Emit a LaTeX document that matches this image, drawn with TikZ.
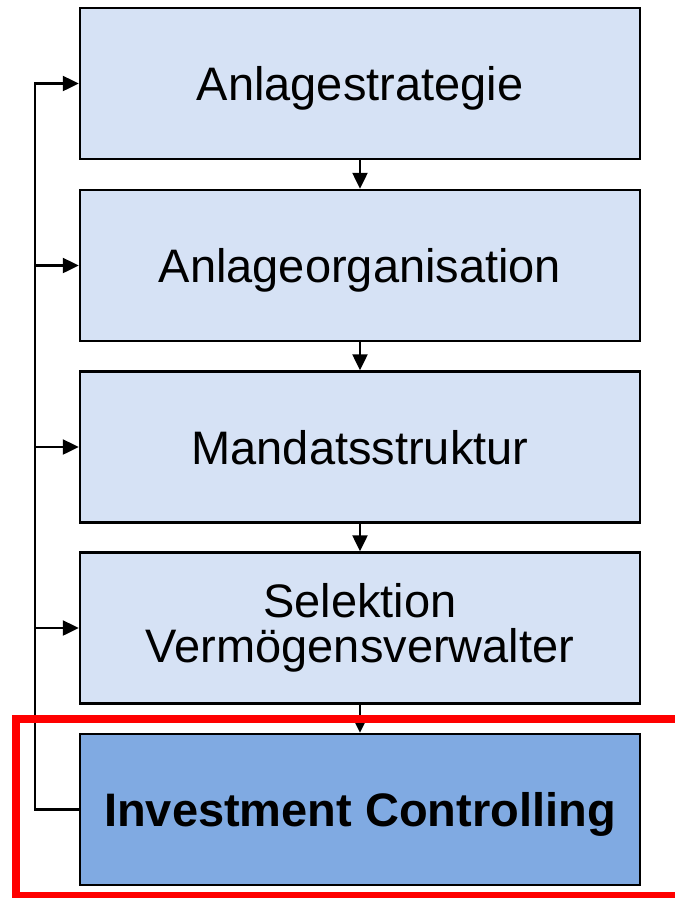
\documentclass[tikz,border=0pt]{standalone}
\usepackage{fontspec}
\setmainfont{Liberation Sans}
\usetikzlibrary{arrows.meta}
\definecolor{lightbox}{RGB}{214,226,245}
\definecolor{darkbox}{RGB}{128,170,226}
\definecolor{redframe}{RGB}{255,0,0}
\tikzset{
  box/.style={draw=black, line width=2.5pt, minimum width=560pt, minimum height=151pt,
    inner sep=0pt, align=center, font=\fontsize{47}{45}\selectfont, text=black},
  oneline/.style={text height=34pt, text depth=0pt},
  lightstep/.style={box, fill=lightbox},
  darkstep/.style={box, fill=darkbox, font=\fontsize{47}{45}\selectfont\bfseries},
  arr/.style={line width=2.5pt, -{Triangle[length=16pt,width=15pt]}},
  frame/.style={draw=redframe, line width=7.5pt}
}
\begin{document}
\begin{tikzpicture}[x=1pt,y=-1pt]
\clip (0,0) rectangle (675,898);
\fill[white] (0,0) rectangle (675,898);
\node[lightstep,oneline] (b1) at (360,83.5) {Anlagestrategie};
\node[lightstep,oneline] (b2) at (360,265.5) {Anlageorganisation};
\node[lightstep,oneline] (b3) at (360,447) {Mandatsstruktur};
\node[lightstep] (b4) at (360,628) {Selektion\\Vermögensverwalter};
\node[darkstep,oneline] (b5) at (360,809.5) {Investment Controlling};
\coordinate (fb) at (35,0);
\draw[arr] (b1.south) -- (b2.north);
\draw[arr] (b2.south) -- (b3.north);
\draw[arr] (b3.south) -- (b4.north);
\draw[arr] (b4.south) -- (b5.north);
\draw[arr] (b5.west) -- (b5.west -| fb) |- (b1.west);
\draw[arr] (b2.west -| fb) -- (b2.west);
\draw[arr] (b3.west -| fb) -- (b3.west);
\draw[arr] (b4.west -| fb) -- (b4.west);
\draw[frame] (16,719) rectangle (700,896);
\end{tikzpicture}
\end{document}
